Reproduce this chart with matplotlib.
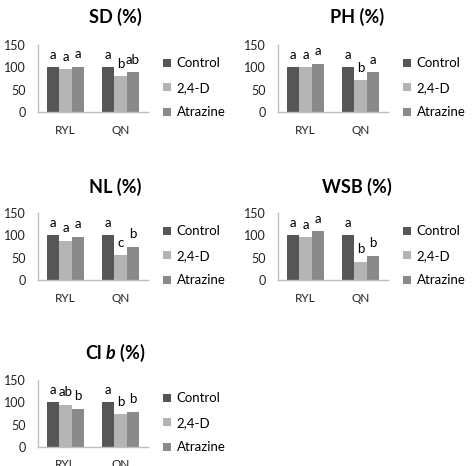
import matplotlib
matplotlib.use('Agg')
import matplotlib.pyplot as plt
import numpy as np

plt.rcParams['font.family'] = ['Lato', 'DejaVu Sans']
plt.rcParams['mathtext.fontset'] = 'custom'
plt.rcParams['mathtext.it'] = 'Lato:italic:bold'
plt.rcParams['mathtext.rm'] = 'Lato:bold'

cultivars = ['RYL', 'QN']
treatments = ['Control', '2,4-D', 'Atrazine']
colors = ['#565656', '#b4b4b4', '#8a8a8a']

titles = ['SD (%)', 'PH (%)', 'NL (%)', 'WSB (%)', r'Cl $\it{b}$ (%)']

# values[panel][treatment] -> [RYL, QN]
sd = [[100, 100], [96, 80], [101, 89]]
ph = [[100, 100], [100, 71], [108, 89]]
nl = [[100, 100], [88, 55], [97, 75]]
wsb = [[100, 100], [96, 41], [109, 54]]
clb = [[100, 100], [95, 73], [86, 79]]
values = [sd, ph, nl, wsb, clb]

# significance letters[panel][treatment] -> [RYL, QN]
sd_let = [['a', 'a'], ['a', 'b'], ['a', 'ab']]
ph_let = [['a', 'a'], ['a', 'b'], ['a', 'a']]
nl_let = [['a', 'a'], ['a', 'c'], ['a', 'b']]
wsb_let = [['a', 'a'], ['a', 'b'], ['a', 'b']]
clb_let = [['a', 'a'], ['ab', 'b'], ['b', 'b']]
letters = [sd_let, ph_let, nl_let, wsb_let, clb_let]

W, H = 475, 466
fig = plt.figure(figsize=(W / 100, H / 100), dpi=100)

lefts = [38, 278]
tops = [45, 213, 380]
title_x = [115, 357]
title_y = [17, 187, 353]
ax_w, ax_h = 110, 67

grey = '#bfbfbf'
x = np.arange(len(cultivars))
bw = 0.22

for p in range(5):
    r, c = divmod(p, 2)
    ax = fig.add_axes([lefts[c] / W, 1 - (tops[r] + ax_h) / H, ax_w / W, ax_h / H])
    for t in range(3):
        bars = ax.bar(x + (t - 1) * bw, values[p][t], bw, color=colors[t],
                      label=treatments[t])
        for b, lab in zip(bars, letters[p][t]):
            ax.annotate(lab, (b.get_x() + b.get_width() / 2, b.get_height()),
                        xytext=(0, 9), textcoords='offset points',
                        ha='center', va='center', fontsize=9.5)
    ax.set_xlim(-0.5, 1.5)
    ax.set_ylim(0, 150)
    ax.set_yticks([0, 50, 100, 150])
    ax.set_xticks(x)
    ax.set_xticklabels(cultivars, fontsize=8.5)
    ax.tick_params(axis='y', labelsize=9, length=0, pad=9, colors='#222222')
    ax.tick_params(axis='x', length=0, pad=9, colors='#222222')
    for s in ['top', 'right']:
        ax.spines[s].set_visible(False)
    for s in ['left', 'bottom']:
        ax.spines[s].set_color(grey)
        ax.spines[s].set_linewidth(1.0)
    ax.legend(loc='center left', bbox_to_anchor=(1.14, 0.36), frameon=False,
              fontsize=9.5, handlelength=0.6, handleheight=0.6, handletextpad=0.4,
              labelspacing=0.95, borderaxespad=0, borderpad=0)
    fig.text(title_x[c] / W, 1 - title_y[r] / H, titles[p], ha='center',
             va='center', fontsize=13, fontweight='bold')

fig.savefig('out.png', dpi=100)
